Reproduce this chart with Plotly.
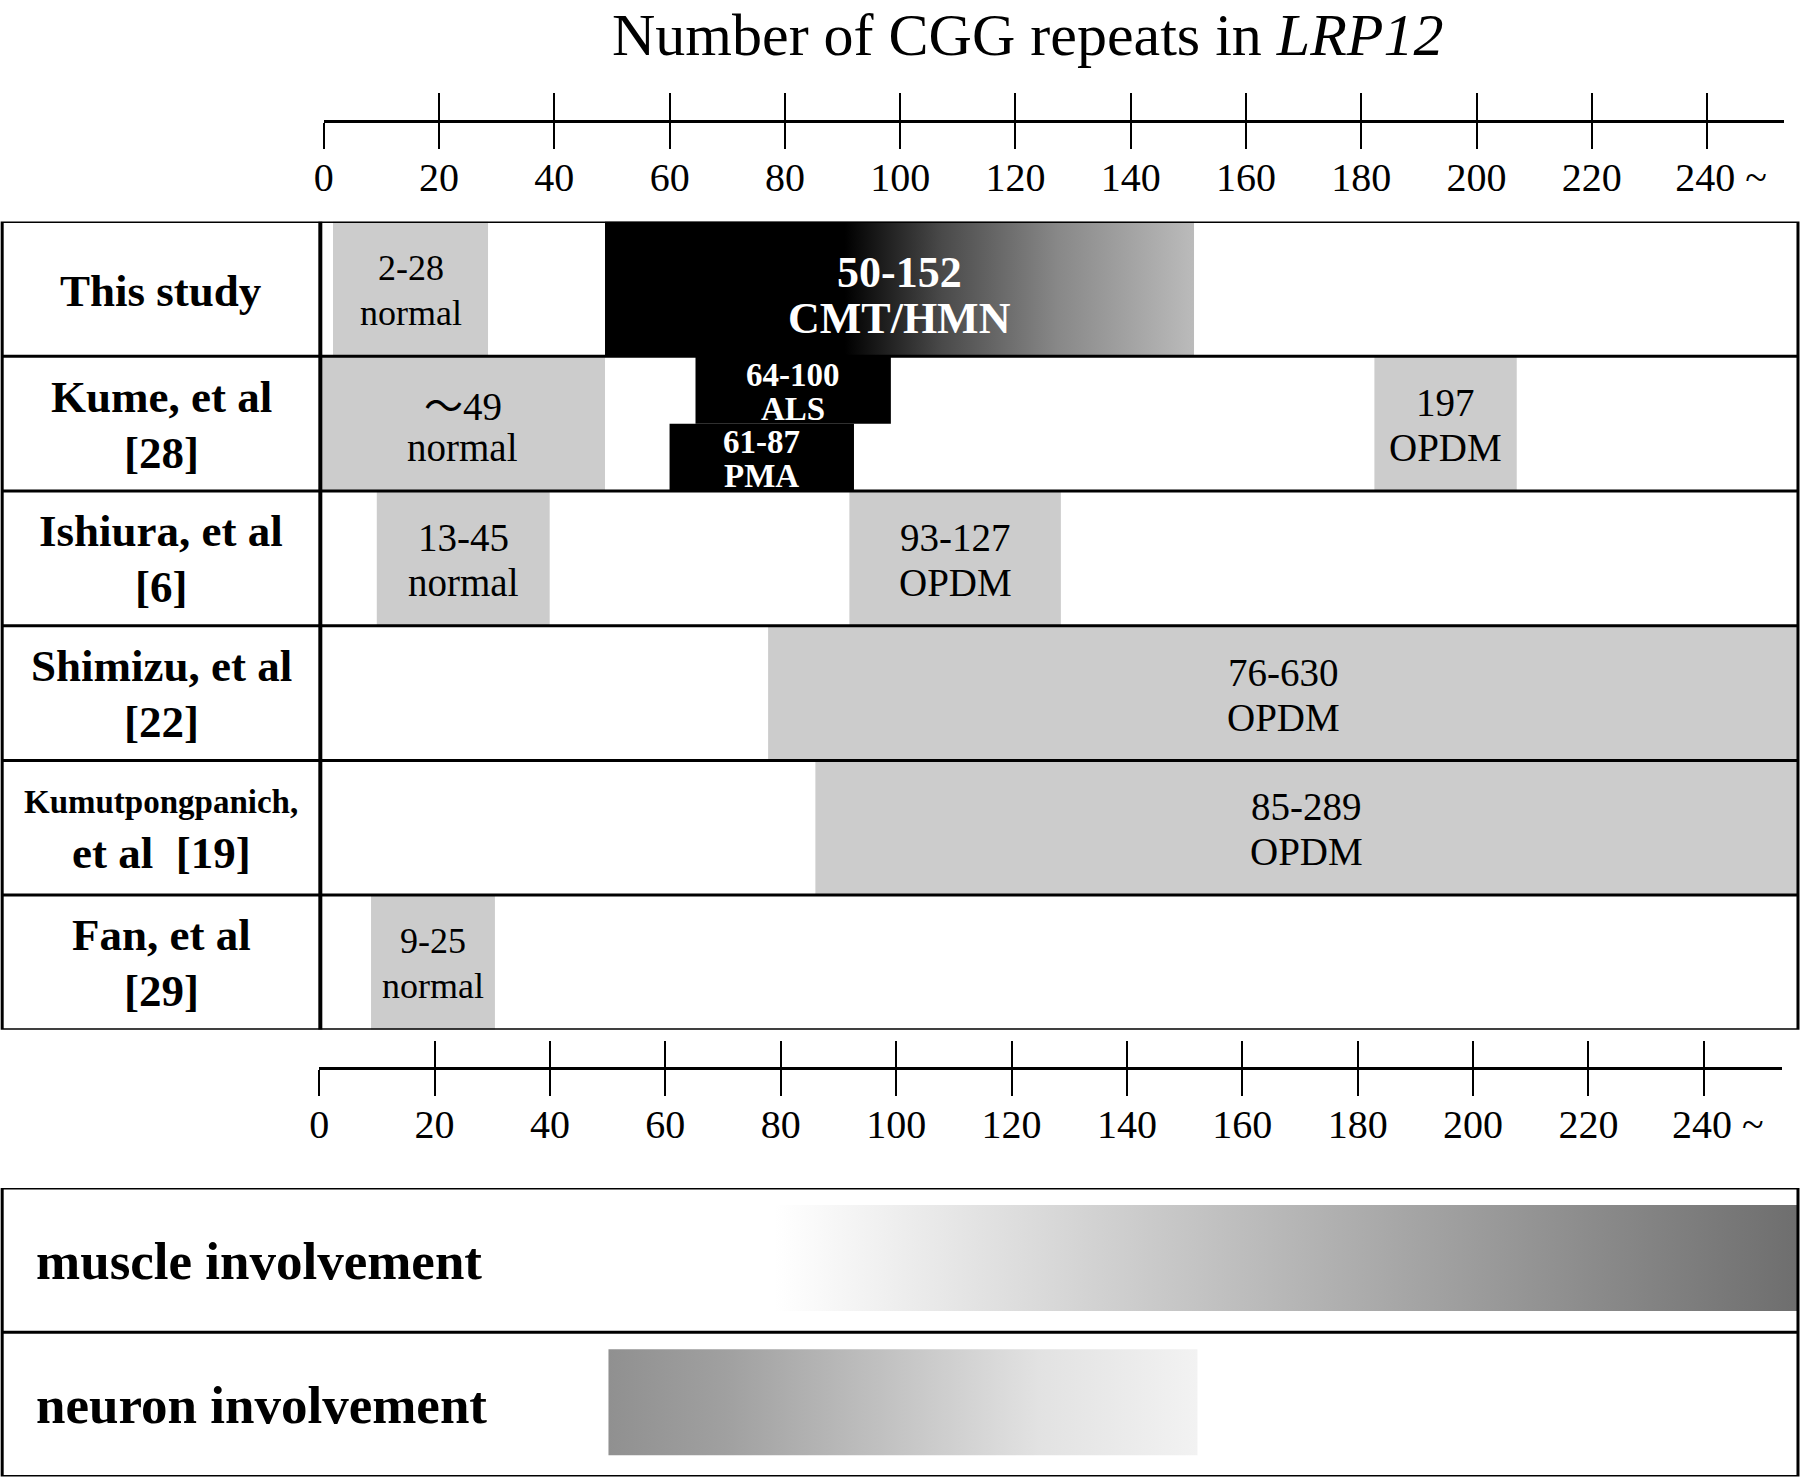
import plotly.graph_objects as go

# ---------------- data ----------------
tick_values = [0, 20, 40, 60, 80, 100, 120, 140, 160, 180, 200, 220, 240]
tick_labels = ["0", "20", "40", "60", "80", "100", "120", "140", "160", "180", "200", "220",
               "\u2002\u2009240 ~"]

row_label_lines = [
    ["This study"],
    ["Kume, et al", "[28]"],
    ["Ishiura, et al", "[6]"],
    ["Shimizu, et al", "[22]"],
    ["Kumutpongpanich,", "et al\u00a0 [19]"],
    ["Fan, et al", "[29]"],
]

# grey ranges (row index, start, end as drawn on the repeat axis)
grey_row = [0, 1, 1, 2, 2, 3, 4, 5]
grey_start = [2.2, 0.0, 182.9, 9.8, 91.8, 77.7, 85.9, 8.8]
grey_end = [29.1, 49.4, 207.6, 39.8, 128.5, 256.4, 256.4, 30.3]
grey_top = ["2-28", "\uff5e49", "197", "13-45", "93-127", "76-630", "85-289", "9-25"]
grey_bottom = ["normal", "normal", "OPDM", "normal", "OPDM", "OPDM", "OPDM", "normal"]

# black half-row ranges in Kume row (row position of half-row center)
black_pos = [1.25, 1.75]
black_start = [65.1, 60.6]
black_end = [99.0, 92.6]
black_top = ["64-100", "61-87"]
black_bottom = ["ALS", "PMA"]

# gradient range of this study
cmt_row = 0
cmt_start = 49.4
cmt_end = 151.6
cmt_top = "50-152"
cmt_bottom = "CMT/HMN"

# involvement gradients
inv_labels = ["muscle involvement", "neuron involvement"]
inv_row = [0, 1]
inv_start = [78.8, 50.0]
inv_end = [256.4, 152.2]

# ---------------- styles ----------------
W, H = 1800, 1480
SERIF = "Liberation Serif, Times New Roman, serif"
CJK = "Noto Sans CJK JP"
GREY = "#cccccc"
cmt_scale = [[0.0, "#000000"], [0.407, "#000000"], [0.573, "#4a4a4a"],
             [0.769, "#888888"], [1.0, "#bbbbbb"]]
muscle_scale = [[0.0, "#ffffff"], [0.03, "#fbfbfb"], [1.0, "#6e6e6e"]]
neuron_scale = [[0.0, "#909090"], [0.2, "#a0a0a0"], [0.46, "#c0c0c0"],
                [0.73, "#e2e2e2"], [1.0, "#f2f2f2"]]
inv_scales = [muscle_scale, neuron_scale]
TABLE_L, TABLE_R = -55.2, 256.4


def py(p):
    return 1 - p / H


def pxf(p):
    return p / W


def fmt_cell(t):
    return t.replace("\uff5e", f"<span style='font-family:{CJK}'>\uff5e</span>")


fig = go.Figure()

# grey bars
for r, s, e in zip(grey_row, grey_start, grey_end):
    fig.add_trace(go.Bar(orientation="h", y=[r + 0.5], x=[e - s], base=[s], width=[1.0],
                         marker=dict(color=GREY, line=dict(width=0)),
                         xaxis="x", yaxis="y", showlegend=False, hoverinfo="skip"))
# black bars
for p, s, e in zip(black_pos, black_start, black_end):
    fig.add_trace(go.Bar(orientation="h", y=[p], x=[e - s], base=[s], width=[0.5],
                         marker=dict(color="#000000", line=dict(width=0)),
                         xaxis="x", yaxis="y", showlegend=False, hoverinfo="skip"))
# gradient bar
fig.add_trace(go.Scatter(
    x=[cmt_start, cmt_end, cmt_end, cmt_start, cmt_start],
    y=[cmt_row, cmt_row, cmt_row + 1, cmt_row + 1, cmt_row],
    mode="lines", line=dict(width=0), fill="toself",
    fillgradient=dict(type="horizontal", colorscale=cmt_scale, start=cmt_start, stop=cmt_end),
    xaxis="x", yaxis="y", showlegend=False, hoverinfo="skip"))

# involvement gradients
for r, s, e, sc in zip(inv_row, inv_start, inv_end, inv_scales):
    y0, y1 = r + 0.118, r + 0.852
    fig.add_trace(go.Scatter(
        x=[s, e, e, s, s], y=[y0, y0, y1, y1, y0],
        mode="lines", line=dict(width=0), fill="toself",
        fillgradient=dict(type="horizontal", colorscale=sc, start=s, stop=e),
        xaxis="x", yaxis="y2", showlegend=False, hoverinfo="skip"))

# dummy traces so the ruler axes exist
fig.add_trace(go.Scatter(x=[0, 240], y=[-5, -5], mode="markers", marker=dict(opacity=0),
                         xaxis="x2", yaxis="y3", showlegend=False, hoverinfo="skip"))
fig.add_trace(go.Scatter(x=[0, 240], y=[-5, -5], mode="markers", marker=dict(opacity=0),
                         xaxis="x3", yaxis="y4", showlegend=False, hoverinfo="skip"))

shapes = []
# table frame
shapes.append(dict(type="rect", xref="x", yref="y", x0=TABLE_L, x1=TABLE_R, y0=0, y1=6,
                   line=dict(color="black", width=3), layer="above"))
for k in range(1, 6):
    shapes.append(dict(type="line", xref="x", yref="y", x0=TABLE_L, x1=TABLE_R, y0=k, y1=k,
                       line=dict(color="black", width=3), layer="above"))
shapes.append(dict(type="line", xref="x", yref="y", x0=0, x1=0, y0=0, y1=6,
                   line=dict(color="black", width=4), layer="above"))
# involvement frame
shapes.append(dict(type="rect", xref="x", yref="y2", x0=TABLE_L, x1=TABLE_R, y0=0, y1=2,
                   line=dict(color="black", width=3), layer="above"))
shapes.append(dict(type="line", xref="x", yref="y2", x0=TABLE_L, x1=TABLE_R, y0=1, y1=1,
                   line=dict(color="black", width=3), layer="above"))

ann = []
# title
ann.append(dict(text="Number of CGG repeats in <i>LRP12</i>", xref="paper", yref="paper",
                x=pxf(1028), y=py(0), xanchor="center", yanchor="top", showarrow=False,
                font=dict(family=SERIF, size=60, color="black")))

# row labels
label_x = (TABLE_L + 0) / 2
for i, lines in enumerate(row_label_lines):
    if len(lines) == 1:
        ann.append(dict(text=f"<b>{lines[0]}</b>", x=label_x, y=i + 0.5, xref="x", yref="y",
                        showarrow=False, yshift=-2,
                        font=dict(family=SERIF, size=45, color="black")))
    else:
        top_size = 33 if i == 4 else 45
        ann.append(dict(text=f"<b>{lines[0]}</b>", x=label_x, y=i + 0.5, xref="x", yref="y",
                        showarrow=False, yshift=27 if i != 4 else 26,
                        font=dict(family=SERIF, size=top_size, color="black")))
        ann.append(dict(text=f"<b>{lines[1]}</b>", x=label_x, y=i + 0.5, xref="x", yref="y",
                        showarrow=False, yshift=-29 if i != 4 else -25,
                        font=dict(family=SERIF, size=45, color="black")))

# grey cell texts
for r, s, e, t, b in zip(grey_row, grey_start, grey_end, grey_top, grey_bottom):
    size = 36 if (r in (0, 5)) else 39
    cx = (s + e) / 2
    ann.append(dict(text=fmt_cell(t), x=cx, y=r + 0.5, xref="x", yref="y", showarrow=False,
                    yshift=21, font=dict(family=SERIF, size=size, color="black")))
    ann.append(dict(text=b, x=cx, y=r + 0.5, xref="x", yref="y", showarrow=False, yshift=-24,
                    font=dict(family=SERIF, size=size, color="black")))

# black cell texts
for p, s, e, t, b in zip(black_pos, black_start, black_end, black_top, black_bottom):
    cx = (s + e) / 2
    ann.append(dict(text=f"<b>{t}</b>", x=cx, y=p, xref="x", yref="y", showarrow=False,
                    yshift=15, font=dict(family=SERIF, size=33, color="white")))
    ann.append(dict(text=f"<b>{b}</b>", x=cx, y=p, xref="x", yref="y", showarrow=False,
                    yshift=-19, font=dict(family=SERIF, size=33, color="white")))

# gradient cell text
cx = (cmt_start + cmt_end) / 2
ann.append(dict(text=f"<b>{cmt_top}</b>", x=cx, y=cmt_row + 0.5, xref="x", yref="y",
                showarrow=False, yshift=16, font=dict(family=SERIF, size=44, color="white")))
ann.append(dict(text=f"<b>{cmt_bottom}</b>", x=cx, y=cmt_row + 0.5, xref="x", yref="y",
                showarrow=False, yshift=-30, font=dict(family=SERIF, size=44, color="white")))

# involvement labels
for r, lab in zip(inv_row, inv_labels):
    ann.append(dict(text=f"<b>{lab}</b>", x=-49.6, y=r + 0.5, xref="x", yref="y2",
                    xanchor="left", showarrow=False, yshift=-1,
                    font=dict(family=SERIF, size=53, color="black")))

hidden = dict(visible=False, showgrid=False, zeroline=False)

ruler_common = dict(showline=True, linecolor="black", linewidth=3, ticks="outside",
                    tickwidth=2, tickcolor="black", showgrid=True, gridcolor="black",
                    gridwidth=2, zeroline=False, tickmode="array", tickvals=tick_values,
                    ticktext=tick_labels, tickfont=dict(family=SERIF, size=40, color="black"),
                    ticklabelstandoff=-6, fixedrange=True, automargin=False)

fig.update_layout(
    width=W, height=H, margin=dict(l=0, r=0, t=0, b=0, pad=0, autoexpand=False),
    paper_bgcolor="white", plot_bgcolor="white", barmode="overlay", showlegend=False,
    xaxis=dict(domain=[0, 1], range=[-55.58, 256.75], automargin=False, **hidden),
    yaxis=dict(domain=[py(1029.8), py(221.6)], range=[6, 0], automargin=False, **hidden),
    yaxis2=dict(domain=[py(1476.5), py(1188)], range=[2, 0], anchor="x", automargin=False,
                **hidden),
    xaxis2=dict(domain=[pxf(323.7), pxf(1784)], range=[-0.02, 253.35], anchor="y3",
                ticklen=26, **ruler_common),
    yaxis3=dict(domain=[py(120.3), py(92.7)], range=[0, 1], anchor="x2", automargin=False,
                **hidden),
    xaxis3=dict(domain=[pxf(319.1), pxf(1781.7)], range=[-0.02, 253.5], anchor="y4",
                ticklen=26, **ruler_common),
    yaxis4=dict(domain=[py(1066.5), py(1041)], range=[0, 1], anchor="x3", automargin=False,
                **hidden),
    shapes=shapes, annotations=ann,
)

fig.write_html("out.html", config={"displayModeBar": False},
               post_script="document.body.style.margin='0px';"
                           "document.body.style.overflow='hidden';")
